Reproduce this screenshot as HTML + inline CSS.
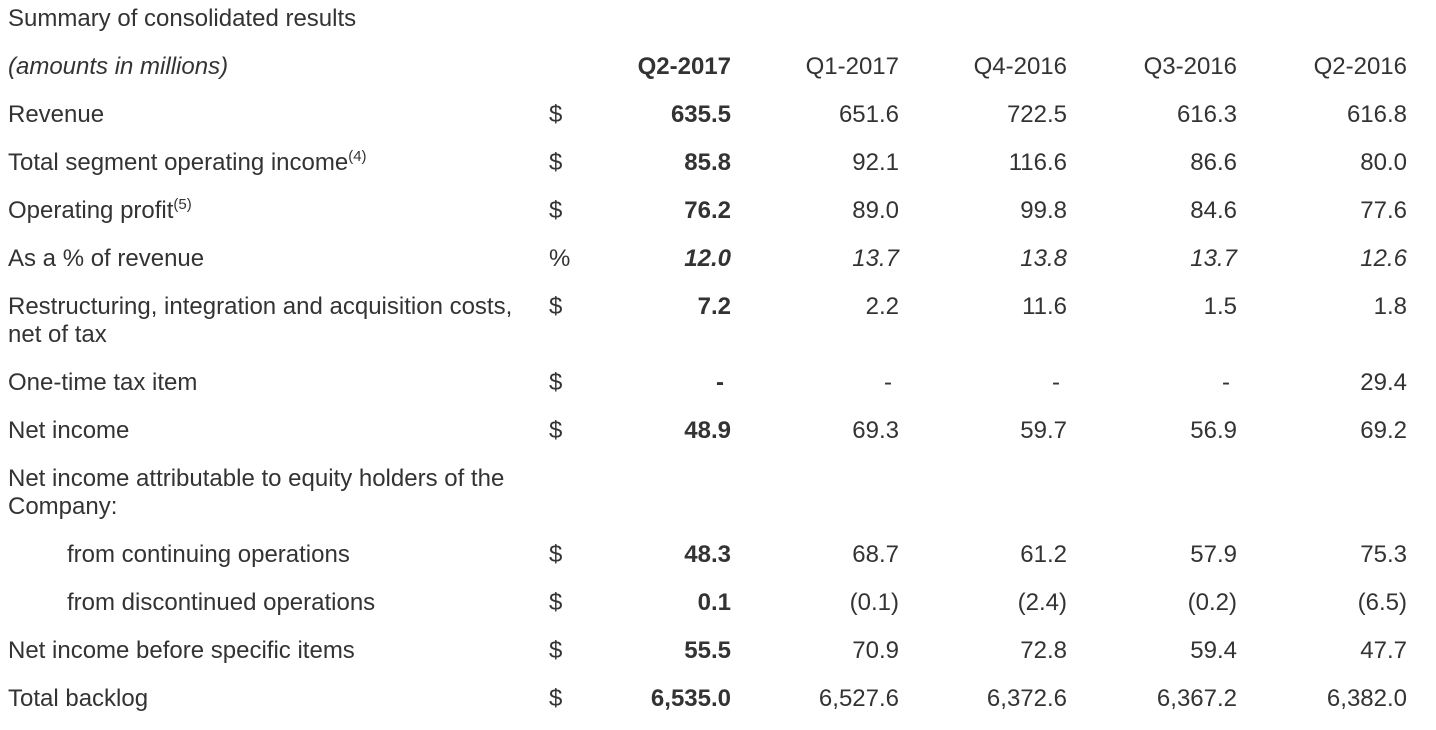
<!DOCTYPE html>
<html><head><meta charset="utf-8"><style>
body{margin:0;width:1436px;height:730px;background:#fff;position:relative;overflow:hidden;font-family:"Liberation Sans",Arial,sans-serif;font-size:24px;color:#333}
.t{position:absolute;line-height:28px;white-space:nowrap}
.r{text-align:right}
.b{font-weight:bold}
.i{font-style:italic}
sup{font-size:15px;vertical-align:9px;line-height:0}
</style></head><body>
<div id="tbl"></div>
<script>
const rowLabels=["Summary of consolidated results","(amounts in millions)","Revenue","Total segment operating income|(4)","Operating profit|(5)","As a % of revenue","Restructuring, integration and acquisition costs,\nnet of tax","One-time tax item","Net income","Net income attributable to equity holders of the\nCompany:","from continuing operations","from discontinued operations","Net income before specific items","Total backlog"];
const units=["","","$","$","$","%","$","$","$","","$","$","$","$"];
const headers=["Q2-2017","Q1-2017","Q4-2016","Q3-2016","Q2-2016"];
const q2_2017=["","","635.5","85.8","76.2","12.0","7.2","-","48.9","","48.3","0.1","55.5","6,535.0"];
const q1_2017=["","","651.6","92.1","89.0","13.7","2.2","-","69.3","","68.7","(0.1)","70.9","6,527.6"];
const q4_2016=["","","722.5","116.6","99.8","13.8","11.6","-","59.7","","61.2","(2.4)","72.8","6,372.6"];
const q3_2016=["","","616.3","86.6","84.6","13.7","1.5","-","56.9","","57.9","(0.2)","59.4","6,367.2"];
const q2_2016=["","","616.8","80.0","77.6","12.6","1.8","29.4","69.2","","75.3","(6.5)","47.7","6,382.0"];
const cols=[q2_2017,q1_2017,q4_2016,q3_2016,q2_2016];
const colRight=[731,899,1067,1237,1407];
const tbl=document.getElementById('tbl');
function mk(txt,x,y,cls,right){
  const d=document.createElement('div');
  d.className='t '+cls;
  d.style.top=(y-14)+'px';
  if(right!==undefined){d.style.right=(1436-right)+'px';}else{d.style.left=x+'px';}
  d.textContent=txt;
  tbl.appendChild(d);return d;
}
let y=19;
rowLabels.forEach((lab,ri)=>{
  const lines=lab.split('\n');
  const indent=(ri===10||ri===11)?67:8;
  lines.forEach((ln,li)=>{
    const parts=ln.split('|');
    const d=mk(parts[0],indent,y+li*28,ri===1?'i':'');
    
    
    if(parts[1]){const s=document.createElement('sup');s.textContent=parts[1];d.appendChild(s);}
  });
  if(units[ri]){
    const u=mk(units[ri],549,y,'');
    
    
  }
  if(ri===1){
    headers.forEach((h,ci)=>{
      const d=mk(h,0,y,'r'+(ci===0?' b':''),colRight[ci]);
      
      
    });
  }
  cols.forEach((c,ci)=>{
    const v=c[ri];if(!v)return;
    let cls='r'+(ci===0?' b':'')+(ri===5?' i':'');
    const d=mk(v,0,y,cls,v==='-'?colRight[ci]-7:colRight[ci]);
    
    
  });
  y+=48+(lines.length-1)*28;
});
</script>
</body></html>
